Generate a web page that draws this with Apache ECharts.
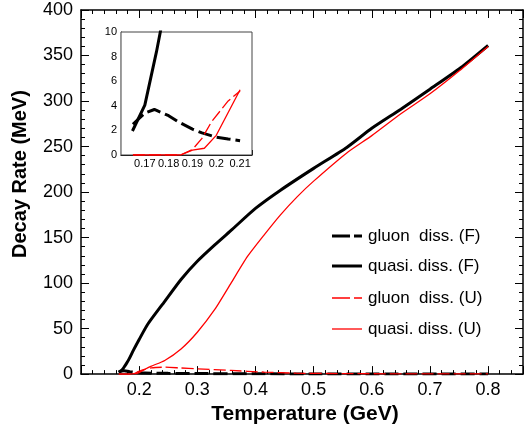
<!DOCTYPE html>
<html>
<head>
<meta charset="utf-8">
<script src="https://cdn.jsdelivr.net/npm/echarts@6/dist/echarts.min.js"></script>
<style>html,body{margin:0;padding:0;background:#fff}#c{width:525px;height:430px}</style>
</head>
<body>
<div id="c"></div>
<script>
// Data: [Temperature (GeV), Decay rate (MeV)]
var gluonF = [[0.165,2.5],[0.17,3.4],[0.174,3.7],[0.18,3.2],[0.184,2.7],[0.19,2.1],[0.194,1.8],[0.2,1.45],[0.205,1.3],[0.21,1.16],[0.25,0.8],[0.3,0.6],[0.4,0.3],[0.5,0.15],[0.6,0.1],[0.8,0.05]];
var quasiF = [[0.1648,1.95],[0.17,4.05],[0.1749,8.4],[0.178,11.5],[0.183,17],[0.19,26],[0.2,38],[0.215,55],[0.244,80],[0.272,104],[0.3,124],[0.33,142],[0.36,159],[0.4,182],[0.443,202],[0.5,226],[0.557,249],[0.6,270],[0.65,291],[0.7,313],[0.756,338],[0.8,361]];
var gluonU = [[0.165,0],[0.185,0],[0.19,0.45],[0.194,1.35],[0.198,2.7],[0.205,4.4],[0.21,5.2],[0.221,6.9],[0.244,7.6],[0.27,6.8],[0.3,5.8],[0.358,4],[0.415,2.2],[0.47,1],[0.55,0.5],[0.65,0.3],[0.8,0.2]];
var quasiU = [[0.165,0],[0.185,0],[0.19,0.4],[0.195,0.55],[0.2,1.6],[0.21,5.3],[0.22,8.5],[0.244,15],[0.272,27.6],[0.3,46],[0.33,71],[0.358,100],[0.386,129],[0.415,153],[0.443,175],[0.472,195],[0.5,212],[0.557,243],[0.6,262],[0.65,286],[0.7,308],[0.75,333],[0.8,360]];
var seriesNames = ['gluon  diss. (F)','quasi. diss. (F)','gluon  diss. (U)','quasi. diss. (U)'];
var insetMaxT = 0.21;
var mainXTicks = {min:0.1, max:0.86, interval:0.1};
var mainYTicks = {min:0, max:400, interval:50};
var insetXTicks = {min:0.16, max:0.215, interval:0.01};
var insetYTicks = {min:0, max:10, interval:2};

var FONT = 'Liberation Sans, Arial, Helvetica, sans-serif';
function fmt(v){ return String(parseFloat((+v).toFixed(3))); }
function axisBase(t, opts){
  var a = {
    type:'value', min:t.min, max:t.max, interval:t.interval,
    axisLine:{show:true, onZero:false, lineStyle:{color:'#000', width:1.5}},
    axisTick:{show:true, inside:true, length:8, lineStyle:{color:'#000', width:1}},
    minorTick:{show:true, splitNumber:5, length:4, lineStyle:{color:'#000', width:1}},
    splitLine:{show:false},
    axisLabel:{show:true, color:'#000', fontFamily:FONT, fontSize:18, formatter:fmt, showMinLabel:true, showMaxLabel:false}
  };
  for (var k in opts) a[k] = opts[k];
  return a;
}
var chart = echarts.init(document.getElementById('c'), null, {renderer:'canvas'});
var styles = [
  {color:'#000', width:3, type:[14,5]},
  {color:'#000', width:3, type:'solid'},
  {color:'#ff0000', width:1.3, type:[12,4]},
  {color:'#ff0000', width:1.3, type:'solid'}
];
var datas = [gluonF, quasiF, gluonU, quasiU];
var series = [];
for (var i=0;i<4;i++){
  series.push({type:'line', name:seriesNames[i], xAxisIndex:0, yAxisIndex:0, data:datas[i], symbol:'none',
    smooth:0.2,
    lineStyle:styles[i], itemStyle:{color:styles[i].color}, z:3+i, animation:false});
}
for (var j=0;j<4;j++){
  var ls = {color:styles[j].color, width:styles[j].width, type:styles[j].type};
  var d = datas[j].filter(function(p){ return p[0] <= insetMaxT + 1e-9; });
  series.push({type:'line', name:seriesNames[j], xAxisIndex:2, yAxisIndex:2, data:d, symbol:'none', clip:true,
    lineStyle:ls, itemStyle:{color:styles[j].color}, z:10+j, animation:false});
}
var mx0 = axisBase(mainXTicks, {gridIndex:0, position:'bottom', name:'Temperature (GeV)', nameLocation:'middle', nameGap:25,
  nameTextStyle:{fontFamily:FONT, fontSize:21, fontWeight:'bold', color:'#000', padding:[0,0,0,6]}});
mx0.axisLabel.showMinLabel = false; mx0.axisLabel.margin = 7;
var mx1 = axisBase(mainXTicks, {gridIndex:0, position:'top'});
mx1.axisLabel = {show:false};
var ix = axisBase(insetXTicks, {gridIndex:1, position:'bottom'});
ix.axisLine.lineStyle.width = 1.2;
ix.axisTick.length = 5; ix.minorTick.length = 3;
ix.axisLabel.fontSize = 11; ix.axisLabel.margin = 3; ix.axisLabel.showMinLabel = false;
var my0 = axisBase(mainYTicks, {gridIndex:0, position:'left', name:'Decay Rate (MeV)', nameLocation:'middle', nameGap:51,
  nameTextStyle:{fontFamily:FONT, fontSize:20, fontWeight:'bold', color:'#000', padding:[0,0,0,36]}});
my0.axisLabel.showMaxLabel = true; my0.axisLabel.margin = 8;
var my1 = axisBase(mainYTicks, {gridIndex:0, position:'right'});
my1.axisLabel = {show:false};
var iy = axisBase(insetYTicks, {gridIndex:1, position:'left'});
iy.axisLine.lineStyle.width = 1.2;
iy.axisTick.length = 5; iy.minorTick.length = 3; iy.minorTick.splitNumber = 4;
iy.axisLabel.fontSize = 11; iy.axisLabel.margin = 4; iy.axisLabel.showMaxLabel = true;

// Legend drawn as graphic elements (line sample + label)
var legendRows = [236, 266, 298, 329];
var graphics = [];
for (var r=0;r<4;r++){
  var st = styles[r];
  graphics.push({type:'line', shape:{x1:332, y1:legendRows[r], x2:362, y2:legendRows[r]},
    style:{stroke:st.color, lineWidth:st.width, lineDash:(st.type==='solid'?null:[18,4])}, z:50});
  graphics.push({type:'text', x:368, y:legendRows[r],
    style:{text:seriesNames[r], fill:'#000', font:'17px '+FONT, textVerticalAlign:'middle', verticalAlign:'middle'}, z:50});
}

chart.setOption({
  backgroundColor:'#fff',
  animation:false,
  textStyle:{fontFamily:FONT},
  grid:[
    {left:81, right:2, top:10, bottom:53, show:false},
    {left:121, top:32, width:131, height:123, show:true, backgroundColor:'#fff', borderColor:'#444', borderWidth:1, z:5}
  ],
  xAxis:[mx0, mx1, ix],
  yAxis:[my0, my1, iy],
  graphic:graphics,
  series:series
});
</script>
</body>
</html>
